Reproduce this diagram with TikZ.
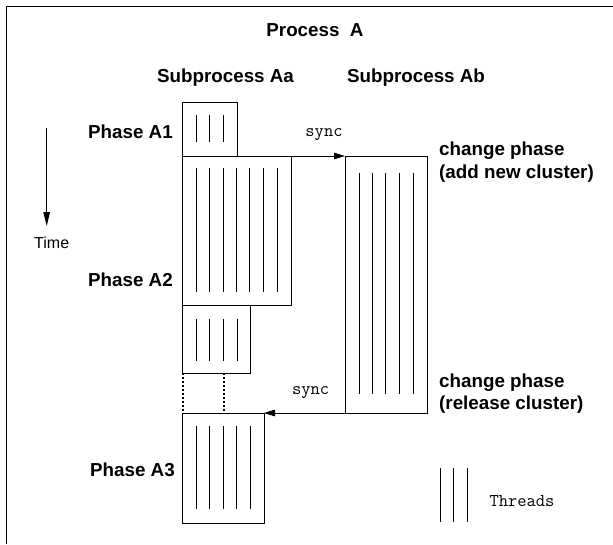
\documentclass[tikz,border=0pt]{standalone}
\usepackage{fontspec}
\setmainfont{Liberation Sans}
\usetikzlibrary{arrows.meta}
\begin{document}
\begin{tikzpicture}[x=1pt,y=-1pt,
  box/.style={draw,line width=1pt,inner sep=0pt,outer sep=0pt,anchor=north west},
  thr/.style={line width=1pt},
  head/.style={font=\fontsize{18.8}{23}\selectfont\bfseries,inner sep=0pt},
  mono/.style={font=\fontsize{18}{20}\selectfont\ttfamily\addfontfeatures{FakeBold=1.3},inner sep=0pt},
  arr/.style={line width=1pt,-{Triangle[length=11pt,width=6.5pt]}}]
\useasboundingbox (0,0) rectangle (613,544);
% frame (top and left only visible)
\draw[line width=1.2pt] (6.3,544) -- (6.3,6.7) -- (613,6.7);
% titles
\node[head] (pa) at (315,30) {Process\ \ A};
\node[head] (saa) at (225.5,78) {Subprocess Aa};
\node[head] (sab) at (416,77.5) {Subprocess Ab};
\node[head,anchor=east] (p1) at (173,132) {Phase A1};
\node[head,anchor=east] (p2) at (173,280) {Phase A2};
\node[head,anchor=east] (p3) at (175,470) {Phase A3};
\node[head,anchor=west,align=left] (c1) at (439,162.3) {change phase\\(add new cluster)};
\node[head,anchor=west,align=left,font=\fontsize{18.8}{22}\selectfont\bfseries] (c2) at (439,394) {change phase\\(release cluster)};
% time
\coordinate (t0) at (46.7,128);
\coordinate (t1) at (46.7,226);
\draw[line width=1pt,-{Triangle[length=14pt,width=6.5pt]}] (t0) -- (t1);
\node[font=\fontsize{16}{18}\selectfont,inner sep=0pt] (time) at (51.7,243) {Time};
% boxes
\node[box,minimum width=55pt,minimum height=54pt] (A1) at (182,102) {};
\node[box,minimum width=109pt,minimum height=149pt] (A2) at (182,156) {};
\node[box,minimum width=68pt,minimum height=68pt] (A2b) at (182,305) {};
\node[box,minimum width=82pt,minimum height=110pt] (A3) at (182,413) {};
\node[box,minimum width=82pt,minimum height=257pt] (Ab) at (345,156) {};
% threads
\foreach \x in {196,209.5,223} \draw[thr] (\x,115) -- (\x,142);
\foreach \x in {196,209.5,223,236,249.5,263,277} \draw[thr] (\x,168) -- (\x,292);
\foreach \x in {196,209.5,223,237.5} \draw[thr] (\x,319) -- (\x,361);
\foreach \x in {196,209.5,223,236,250} \draw[thr] (\x,426) -- (\x,509);
\foreach \x in {359,372.7,385.7,399.3,413.3} \draw[thr] (\x,173) -- (\x,394);
% legend
\foreach \x in {440,453.3,467.7} \draw[thr] (\x,468) -- (\x,522);
\node[mono] (thl) at (522,501.5) {Threads};
% sync arrows
\draw[arr] (A2.north east) -- (Ab.north west);
\node[mono] (s1) at (324,135) {sync};
\draw[arr] (Ab.south west) -- (A3.north east);
\node[mono] (s2) at (310.7,392.7) {sync};
% dotted links
\coordinate (d1a) at (183.3,373);
\coordinate (d1b) at (183.3,413);
\coordinate (d2a) at (224,373);
\coordinate (d2b) at (224,413);
\draw[line width=2pt,dash pattern=on 2pt off 2pt] (d1a) -- (d1b);
\draw[line width=2pt,dash pattern=on 2pt off 2pt] (d2a) -- (d2b);
\end{tikzpicture}
\end{document}
